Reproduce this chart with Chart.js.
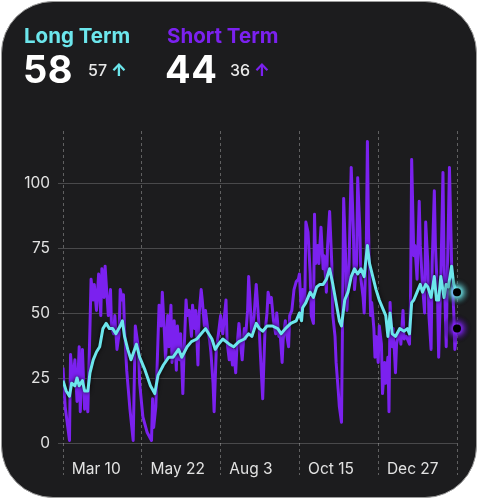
<!DOCTYPE html>
<html lang="en">
  <head>
    <meta charset="UTF-8" />
    <script src="https://cdn.jsdelivr.net/npm/chart.js@4.4.0/dist/chart.umd.min.js"></script>
    <title>Long Term / Short Term</title>
    <style>
      body {
        margin: 0;
        padding: 0;
        background: #fff;
        width: 480px;
        height: 501px;
        overflow: hidden;
        font-family: Inter, sans-serif;
      }

      .card {
        position: absolute;
        left: 1px;
        top: 1px;
        width: 474px;
        height: 495px;
        background: #1c1c1e;
        border: 1px solid #9c9c9c;
        border-radius: 52px;
      }

      canvas {
        position: absolute;
        left: 0;
        top: 0;
      }

      .hd {
        position: absolute;
        line-height: 1;
        font-weight: 700;
        white-space: nowrap;
      }

      .label { font-size: 20.5px; top: 26px; }
      .big { font-size: 38px; top: 50px; color: #fff; letter-spacing: 0.5px; }
      .small { font-size: 16px; top: 62px; color: #e8e8e8; font-weight: 500; }
      .cyan { color: #6ce6ec; }
      .purple { color: #7b21ef; }
      .arrow { font-size: 17px; font-weight: 800; margin-left: 4px; }
    </style>
  </head>
  <body>
    <div class="card"></div>
    <canvas id="chart" width="480" height="501"></canvas>

    <div class="hd label cyan" style="left: 24px">Long Term</div>
    <div class="hd big" style="left: 23px">58</div>
    <div class="hd small" style="left: 88px">57<span class="arrow cyan">↑</span></div>

    <div class="hd label purple" style="left: 167px">Short Term</div>
    <div class="hd big" style="left: 165px">44</div>
    <div class="hd small" style="left: 230px">36<span class="arrow purple">↑</span></div>

    <script>
      // days since Mar 10
      const tickLabels = ['Mar 10', 'May 22', 'Aug 3', 'Oct 15', 'Dec 27', '']

      const shortDays = [
        0, 2, 6, 7, 9, 11, 13, 15, 16, 18,
        20, 21, 23, 25, 26, 28, 29, 31, 33, 35,
        36, 38, 39, 41, 42, 44, 45, 47, 48, 50,
        52, 53, 55, 56, 57, 59, 62, 65, 67, 70,
        71, 74, 78, 82, 83, 84, 86, 89, 91, 92,
        94, 95, 97, 98, 100, 101, 103, 105, 106, 108,
        109, 111, 112, 114, 115, 117, 119, 120, 122, 123,
        125, 126, 128, 129, 131, 132, 134, 136, 137, 139,
        140, 142, 144, 146, 148, 151, 152, 154, 155, 157,
        158, 160, 161, 163, 165, 166, 168, 169, 171, 172,
        174, 175, 177, 179, 180, 182, 183, 185, 187, 189,
        190, 192, 193, 195, 197, 198, 200, 201, 203, 204,
        206, 207, 209, 210, 212, 214, 216, 218, 219, 221,
        222, 224, 225, 227, 229, 230, 232, 233, 234, 236,
        237, 239, 241, 242, 244, 245, 247, 249, 250, 252,
        253, 255, 256, 258, 259, 260, 262, 263, 265, 267,
        269, 270, 272, 273, 275, 276, 278, 279, 281, 282,
        283, 285, 286, 288, 289, 290, 292, 293, 295, 296,
        298, 299, 301, 302, 303, 305, 306, 308, 309, 312,
        313, 315, 316, 318, 319, 321, 322, 323, 325, 326,
        328, 330, 331, 333, 335, 336, 338, 339, 341, 342,
        344, 345, 347, 348, 350, 352, 353, 355, 356, 358,
        359, 360, 362, 363, 365
      ]
      const shortTerm = [
        29, 14, 1, 34, 23, 32, 16, 37, 12, 36,
        13, 20, 12, 45, 63, 55, 61, 51, 65, 49,
        67, 56, 68, 55, 49, 59, 44, 42, 49, 36,
        42, 59, 55, 57, 44, 28, 13, 1, 45, 36,
        23, 10, 4, 1, 17, 6, 14, 53, 45, 58,
        42, 32, 49, 37, 53, 31, 47, 28, 45, 32,
        42, 19, 33, 55, 49, 51, 41, 53, 44, 51,
        30, 49, 59, 55, 45, 51, 44, 39, 35, 23,
        12, 36, 42, 49, 42, 55, 39, 32, 38, 30,
        36, 27, 36, 46, 36, 32, 44, 40, 51, 64,
        49, 41, 49, 61, 55, 42, 33, 17, 42, 50,
        58, 54, 56, 47, 42, 50, 41, 43, 31, 40,
        47, 42, 37, 49, 51, 59, 62, 63, 65, 49,
        59, 54, 85, 81, 65, 49, 46, 88, 69, 76,
        69, 83, 67, 72, 58, 75, 89, 69, 49, 41,
        31, 20, 14, 8, 49, 94, 69, 51, 69, 106,
        82, 59, 69, 102, 82, 63, 56, 50, 76, 116,
        82, 49, 54, 44, 33, 41, 31, 45, 38, 19,
        31, 23, 33, 12, 54, 37, 44, 27, 38, 44,
        38, 51, 40, 41, 40, 38, 58, 109, 72, 76,
        63, 93, 76, 61, 50, 85, 69, 49, 36, 69,
        97, 76, 56, 33, 63, 104, 69, 37, 63, 106,
        88, 69, 50, 36, 44
      ]

      const longDays = [
        0, 3, 6, 8, 11, 13, 15, 18, 20, 23,
        25, 28, 31, 34, 37, 40, 43, 46, 49, 53,
        55, 57, 60, 63, 68, 71, 76, 81, 85, 88,
        93, 98, 102, 107, 110, 115, 119, 124, 128, 132,
        135, 138, 141, 144, 148, 154, 158, 163, 168, 172,
        175, 179, 182, 185, 189, 194, 199, 202, 206, 211,
        216, 219, 221, 222, 225, 229, 232, 235, 238, 241,
        244, 247, 250, 253, 256, 258, 261, 264, 267, 270,
        273, 276, 279, 282, 284, 287, 290, 293, 296, 299,
        301, 303, 305, 308, 312, 316, 319, 321, 323, 325,
        328, 331, 333, 336, 338, 341, 344, 346, 348, 350,
        353, 355, 357, 360, 362, 365
      ]
      const longTerm = [
        24, 20, 18, 23, 22, 25, 22, 24, 20, 20,
        27, 32, 35, 37, 44, 46, 44, 44, 42, 45,
        47, 41, 36, 32, 38, 33, 28, 22, 19, 26,
        30, 33, 33, 36, 33, 37, 39, 40, 42, 44,
        42, 40, 36, 38, 40, 38, 37, 39, 40, 42,
        41, 46, 44, 43, 45, 45, 44, 42, 44, 46,
        47, 50, 47, 52, 54, 58, 56, 60, 61, 61,
        63, 67, 61, 54, 47, 45, 55, 58, 64, 67,
        65, 67, 64, 76, 69, 64, 59, 55, 52, 49,
        41, 50, 42, 41, 44, 43, 44, 42, 54, 55,
        58, 61, 58, 61, 60, 56, 64, 55, 55, 64,
        56, 61, 60, 68, 61, 58
      ]

      const toPoints = (days, vals) => days.map((d, i) => ({ x: d, y: vals[i] }))

      const endGlow = {
        id: 'endGlow',
        afterDatasetsDraw(chart) {
          const c = chart.ctx
          chart.data.datasets.forEach((ds, i) => {
            const pts = chart.getDatasetMeta(i).data
            const p = pts[pts.length - 1]
            const g = c.createRadialGradient(p.x, p.y, 0, p.x, p.y, 15)
            g.addColorStop(0, ds.glow)
            g.addColorStop(0.35, ds.glow)
            g.addColorStop(1, 'rgba(0,0,0,0)')
            c.save()
            c.fillStyle = g
            c.beginPath()
            c.arc(p.x, p.y, 15, 0, Math.PI * 2)
            c.fill()
            c.fillStyle = '#000'
            c.beginPath()
            c.arc(p.x, p.y, 4, 0, Math.PI * 2)
            c.fill()
            c.restore()
          })
        },
      }

      // dark halo under the long term line
      const lineShadow = {
        id: 'lineShadow',
        beforeDatasetDraw(chart, args) {
          if (args.index === 0) {
            chart.ctx.save()
            chart.ctx.shadowColor = 'rgba(0,0,0,0.85)'
            chart.ctx.shadowBlur = 4
          }
        },
        afterDatasetDraw(chart, args) {
          if (args.index === 0) chart.ctx.restore()
        },
      }

      Chart.defaults.font.family = 'Inter, sans-serif'
      Chart.defaults.color = '#e2e2e2'

      const chart = new Chart(document.getElementById('chart').getContext('2d'), {
        type: 'line',
        data: {
          datasets: [
            {
              label: 'Long Term',
              data: toPoints(longDays, longTerm),
              borderColor: '#6ce6ec',
              borderWidth: 3,
              pointRadius: 0,
              borderJoinStyle: 'round',
              glow: 'rgba(108,230,236,0.75)',
            },
            {
              label: 'Short Term',
              data: toPoints(shortDays, shortTerm),
              borderColor: '#7b21ef',
              borderWidth: 3,
              pointRadius: 0,
              borderJoinStyle: 'round',
              glow: 'rgba(123,33,239,0.8)',
            },
          ],
        },
        options: {
          responsive: false,
          animation: false,
          layout: { padding: { top: 131, right: 23, left: 0, bottom: 0 } },
          plugins: {
            legend: { display: false },
            tooltip: { enabled: false },
          },
          scales: {
            x: {
              type: 'linear',
              min: 0,
              max: 365,
              afterFit: (s) => { s.height = 58 },
              border: { display: false, dash: [3, 3] },
              grid: {
                color: 'rgba(255,255,255,0.3)',
                tickColor: 'rgba(255,255,255,0.3)',
                tickBorderDash: [3, 3],
                tickLength: 32,
              },
              ticks: {
                stepSize: 73,
                align: 'start',
                padding: -15,
                maxRotation: 0,
                autoSkip: false,
                font: { size: 15.5 },
                callback: (v, i) => '  ' + (tickLabels[i] || ''),
              },
            },
            y: {
              min: 0,
              max: 120,
              afterFit: (s) => { s.width = 63 },
              afterBuildTicks: (s) => { s.ticks = s.ticks.filter((t) => t.value % 25 === 0) },
              border: { display: false },
              grid: {
                color: 'rgba(255,255,255,0.2)',
                tickLength: 5,
              },
              ticks: {
                stepSize: 25,
                padding: 8,
                font: { size: 15.5 },
              },
            },
          },
        },
        plugins: [lineShadow, endGlow],
      })
    </script>
  </body>
</html>
